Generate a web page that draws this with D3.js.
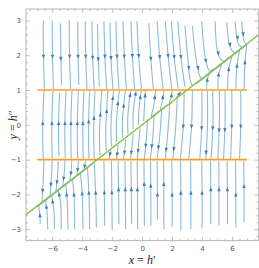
<!DOCTYPE html>
<html>
<head>
<meta charset="utf-8">
<script src="https://cdn.jsdelivr.net/npm/d3@7"></script>
<style>
  body { margin: 0; background: #fff; }
  svg { display: block; }
</style>
</head>
<body>
<svg id="chart" width="259" height="268"></svg>
<script>
// phase plane, x = h', y = h''
let xTicks = [-6, -4, -2, 0, 2, 4, 6];
let yTicks = [-3, -2, -1, 0, 1, 2, 3];
let orangeLevels = [1, -1];
let orangeSpan = [-7, 7];
let greenLine = [[-7.75, -2.583], [7.75, 2.583]];

// streamlines: [arrowY, [x,y], [x,y], ...] in flow order
let upperDown = [
  [1.96, [-6.6, 3.0], [-6.58, 1.9], [-6.52, 1.03]],
  [1.96, [-6.0, 3.0], [-5.98, 1.9], [-5.92, 1.03]],
  [1.9, [-5.45, 2.92], [-5.42, 1.9], [-5.38, 1.15]],
  [1.96, [-4.87, 3.0], [-4.84, 1.9], [-4.77, 1.03]],
  [1.96, [-4.3, 2.97], [-4.27, 1.9], [-4.22, 1.15]],
  [1.96, [-3.8, 2.97], [-3.76, 1.9], [-3.68, 1.03]],
  [1.93, [-3.35, 2.97], [-3.3, 1.9], [-3.2, 1.04]],
  [1.88, [-2.98, 2.9], [-2.93, 1.9], [-2.85, 1.1]],
  [1.96, [-2.55, 2.98], [-2.48, 1.9], [-2.36, 1.03]],
  [1.92, [-2.15, 2.94], [-2.08, 1.9], [-1.95, 1.03]],
  [1.96, [-1.75, 2.98], [-1.67, 1.9], [-1.55, 1.03]],
  [1.96, [-1.28, 2.98], [-1.18, 1.9], [-1.05, 1.03]],
  [1.98, [-0.75, 2.98], [-0.64, 1.9], [-0.5, 1.03]],
  [1.98, [-0.35, 2.98], [-0.22, 1.9], [-0.05, 1.03]],
  [1.9, [0.45, 2.92], [0.58, 1.9], [0.75, 1.03]],
  [1.95, [1.0, 2.98], [1.18, 1.9], [1.4, 1.03]],
  [1.98, [1.55, 2.98], [1.75, 1.9], [1.98, 1.03]],
  [1.95, [1.95, 2.98], [2.15, 1.9], [2.4, 1.05]],
  [1.95, [2.38, 2.98], [2.6, 1.9], [2.85, 1.1]],
  [1.63, [2.85, 2.85], [3.05, 1.9], [3.2, 1.3], [3.35, 1.12]],
  [1.63, [3.35, 2.85], [3.6, 1.9], [3.85, 1.4], [4.0, 1.33]],
  [1.84, [3.97, 2.98], [4.25, 1.84], [4.5, 1.55], [4.8, 1.6]],
  [2.05, [4.87, 2.98], [5.1, 2.0], [5.45, 1.82], [5.7, 1.9]],
  [2.3, [5.65, 2.94], [5.9, 2.2], [6.2, 2.07], [6.4, 2.13]],
  [2.5, [6.2, 2.98], [6.45, 2.3], [6.7, 2.23]],
  [2.6, [6.65, 2.98], [6.8, 2.4], [6.95, 2.32]]
];

let rightUp = [
  [1.3, [4.3, 1.03], [4.35, 1.3], [4.5, 1.5]],
  [1.45, [5.05, 1.03], [5.1, 1.45], [5.3, 1.74]],
  [1.6, [5.7, 1.03], [5.78, 1.6], [6.0, 1.98]],
  [1.7, [6.25, 1.03], [6.33, 1.7], [6.5, 2.15]],
  [1.8, [6.8, 1.03], [6.86, 1.8], [6.98, 2.3]],
  [null, [3.6, 1.17], [5.0, 1.64], [7.0, 2.31]]
];

let midUp = [
  [0.05, [-6.6, -0.97], [-6.64, -0.2], [-6.6, 0.5], [-6.55, 0.97]],
  [0.05, [-6.0, -0.97], [-6.03, -0.2], [-6.0, 0.5], [-5.95, 0.97]],
  [0.05, [-5.55, -0.9], [-5.58, -0.2], [-5.55, 0.5], [-5.5, 0.92]],
  [0.05, [-5.13, -0.97], [-5.16, -0.2], [-5.13, 0.5], [-5.08, 0.97]],
  [0.05, [-4.73, -0.97], [-4.76, -0.2], [-4.73, 0.5], [-4.68, 0.97]],
  [0.05, [-4.3, -0.97], [-4.33, -0.2], [-4.3, 0.5], [-4.25, 0.97]],
  [0.05, [-3.93, -0.97], [-3.96, -0.2], [-3.93, 0.5], [-3.88, 0.97]],
  [0.1, [-3.55, -0.97], [-3.58, -0.2], [-3.55, 0.5], [-3.5, 0.97]],
  [0.2, [-3.2, -0.97], [-3.23, -0.2], [-3.2, 0.5], [-3.15, 0.97]],
  [0.3, [-2.82, -0.88], [-2.85, -0.3], [-2.78, 0.4], [-2.7, 0.98]],
  [0.4, [-2.4, -0.75], [-2.43, -0.2], [-2.36, 0.5], [-2.28, 0.98]],
  [0.77, [-2.05, -0.62], [-2.08, -0.1], [-2.0, 0.6], [-1.9, 0.98]],
  [0.62, [-1.7, -0.5], [-1.72, 0.0], [-1.62, 0.6], [-1.52, 0.98]],
  [0.55, [-1.3, -0.37], [-1.32, 0.1], [-1.22, 0.6], [-1.12, 0.98]],
  [0.86, [-0.95, -0.25], [-0.96, 0.2], [-0.86, 0.7], [-0.75, 0.98]],
  [0.9, [-0.6, -0.13], [-0.6, 0.3], [-0.5, 0.75], [-0.4, 0.98]],
  [0.8, [-0.25, 0.0], [-0.22, 0.4], [-0.12, 0.8], [-0.05, 0.98]],
  [0.85, [0.1, 0.1], [0.15, 0.5], [0.22, 0.98]],
  [0.8, [0.6, 0.25], [0.75, 0.5], [0.9, 0.98]],
  [0.8, [1.2, 0.45], [1.35, 0.7], [1.45, 0.98]],
  [0.85, [1.8, 0.65], [1.95, 0.8], [2.0, 0.98]],
  [0.9, [2.3, 0.8], [2.5, 0.9], [2.55, 0.98]],
  [null, [0.6, 0.22], [1.3, 0.45], [2.0, 0.64]]
];

let midDown = [
  [-0.85, [-2.1, -0.75], [-2.15, -0.85], [-2.2, -0.98]],
  [-0.85, [-1.6, -0.58], [-1.65, -0.8], [-1.72, -0.98]],
  [-0.8, [-1.1, -0.42], [-1.15, -0.7], [-1.25, -0.98]],
  [-0.8, [-0.6, -0.25], [-0.67, -0.6], [-0.78, -0.98]],
  [-0.75, [-0.15, -0.1], [-0.22, -0.5], [-0.32, -0.98]],
  [-0.6, [0.35, 0.15], [0.3, -0.3], [0.15, -0.98]],
  [-0.62, [0.8, 0.3], [0.72, -0.3], [0.55, -0.98]],
  [-0.65, [1.3, 0.46], [1.2, -0.2], [1.0, -0.98]],
  [-0.72, [1.85, 0.65], [1.75, 0.0], [1.55, -0.98]],
  [-0.7, [2.35, 0.82], [2.25, 0.0], [2.05, -0.98]],
  [-0.05, [2.8, 0.97], [2.75, 0.0], [2.55, -0.98]],
  [-0.05, [3.35, 0.98], [3.3, 0.0], [3.1, -0.98]],
  [-0.1, [3.98, 0.98], [3.98, 0.0], [3.85, -0.98]],
  [-0.8, [4.36, 0.98], [4.36, 0.0], [4.25, -0.98]],
  [-0.1, [4.71, 0.98], [4.72, 0.0], [4.6, -0.98]],
  [-0.16, [5.15, 0.98], [5.15, 0.0], [5.05, -0.98]],
  [-0.15, [5.53, 0.98], [5.53, 0.0], [5.43, -0.98]],
  [-0.05, [5.98, 0.98], [5.98, 0.0], [5.9, -0.98]],
  [-0.05, [6.58, 0.98], [6.58, 0.0], [6.5, -0.98]]
];

let leftDown = [
  [-1.9, [-6.55, -1.02], [-6.6, -1.6], [-6.68, -2.2]],
  [-1.72, [-6.0, -1.02], [-6.05, -1.5], [-6.15, -2.03]],
  [-1.65, [-5.6, -1.05], [-5.65, -1.5], [-5.75, -1.9]],
  [-1.55, [-5.15, -1.02], [-5.2, -1.4], [-5.3, -1.75]],
  [-1.4, [-4.7, -1.02], [-4.73, -1.3], [-4.82, -1.6]],
  [-1.3, [-4.25, -1.02], [-4.28, -1.2], [-4.35, -1.45]],
  [-1.2, [-3.8, -1.02], [-3.82, -1.15], [-3.88, -1.29]],
  [null, [-3.3, -1.12], [-5.0, -1.69], [-7.0, -2.36]]
];

let lowerUp = [
  [-2.6, [-6.8, -2.85], [-6.82, -2.6], [-6.9, -2.33]],
  [-2.35, [-6.3, -3.0], [-6.35, -2.5], [-6.45, -2.15]],
  [-2.2, [-5.85, -3.0], [-5.9, -2.4], [-6.05, -2.02]],
  [-2.0, [-5.4, -3.0], [-5.45, -2.2], [-5.6, -1.87]],
  [-2.0, [-4.95, -3.0], [-5.0, -2.2], [-5.1, -1.7]],
  [-2.0, [-4.5, -3.0], [-4.55, -2.0], [-4.65, -1.55]],
  [-1.97, [-3.95, -3.0], [-4.0, -2.0], [-4.12, -1.37]],
  [-1.95, [-3.5, -3.0], [-3.55, -2.0], [-3.65, -1.22]],
  [-1.95, [-3.05, -2.95], [-3.1, -2.0], [-3.2, -1.07]],
  [-1.94, [-2.5, -2.9], [-2.52, -2.0], [-2.55, -1.03]],
  [-1.94, [-2.0, -3.04], [-2.02, -2.0], [-2.05, -1.03]],
  [-1.85, [-1.55, -2.86], [-1.57, -2.0], [-1.6, -1.03]],
  [-1.85, [-1.1, -3.0], [-1.12, -2.0], [-1.15, -1.03]],
  [-1.85, [-0.7, -2.86], [-0.72, -2.0], [-0.75, -1.03]],
  [-1.85, [-0.3, -3.0], [-0.31, -2.0], [-0.33, -1.03]],
  [-1.7, [0.15, -2.9], [0.14, -2.0], [0.12, -1.03]],
  [-1.75, [0.58, -2.9], [0.58, -2.0], [0.56, -1.03]],
  [-2.0, [1.02, -2.72], [1.02, -2.0], [1.0, -1.03]],
  [-1.7, [1.45, -3.0], [1.45, -2.0], [1.43, -1.03]],
  [-2.0, [2.0, -2.93], [2.0, -2.0], [1.98, -1.03]],
  [-1.95, [2.58, -3.04], [2.58, -2.0], [2.56, -1.03]],
  [-1.95, [3.25, -3.0], [3.25, -2.0], [3.23, -1.03]],
  [-1.95, [4.0, -2.98], [4.0, -2.0], [3.98, -1.03]],
  [-1.85, [4.58, -2.86], [4.58, -2.0], [4.56, -1.03]],
  [-1.85, [5.13, -2.9], [5.13, -2.0], [5.11, -1.03]],
  [-1.85, [5.69, -2.86], [5.69, -2.0], [5.67, -1.03]],
  [-2.0, [6.25, -2.95], [6.25, -2.0], [6.23, -1.03]],
  [-1.76, [6.8, -2.8], [6.8, -2.0], [6.78, -1.03]]
];

let plotLeft = 26, plotRight = 258.3, plotTop = 9, plotBottom = 240.7;

let svg = d3.select("#chart");

let x = d3.scaleLinear().domain([-7.75, 7.75]).range([plotLeft, plotRight]);
let y = d3.scaleLinear().domain([-3.33, 3.33]).range([plotBottom, plotTop]);

svg.append("defs").append("clipPath").attr("id", "plotclip")
  .append("rect")
  .attr("x", plotLeft).attr("y", plotTop)
  .attr("width", plotRight - plotLeft).attr("height", plotBottom - plotTop);

let plot = svg.append("g").attr("clip-path", "url(#plotclip)");

let lineGen = d3.line()
  .x(function(d) { return x(d[0]); })
  .y(function(d) { return y(d[1]); })
  .curve(d3.curveCatmullRom.alpha(0.5));

let allStreams = upperDown.concat(rightUp, midUp, midDown, leftDown, lowerUp);

let streamGroup = plot.append("g");

streamGroup.selectAll("path.stream")
  .data(allStreams)
  .enter()
  .append("path")
    .attr("class", "stream")
    .attr("d", function(d) { return lineGen(d.slice(1)); })
    .attr("fill", "none")
    .attr("stroke", "#79aed3")
    .attr("stroke-opacity", 0.85)
    .attr("stroke-width", 1.1);

// arrow heads where each line crosses its arrowY
function arrowAt(d) {
  if (d[0] === null) return null;
  let pts = d.slice(1).map(function(p) { return [x(p[0]), y(p[1])]; });
  let ay = y(d[0]);
  for (let i = 0; i < pts.length - 1; i++) {
    let a = pts[i], b = pts[i + 1];
    if ((a[1] - ay) * (b[1] - ay) <= 0 && a[1] !== b[1]) {
      let t = (ay - a[1]) / (b[1] - a[1]);
      let px = a[0] + t * (b[0] - a[0]);
      let ang = Math.atan2(b[1] - a[1], b[0] - a[0]) * 180 / Math.PI;
      return { px: px, py: ay, ang: ang };
    }
  }
  return null;
}

let arrows = allStreams.map(arrowAt).filter(function(a) { return a !== null; });

streamGroup.selectAll("path.arrow")
  .data(arrows)
  .enter()
  .append("path")
    .attr("class", "arrow")
    .attr("d", "M2.2,0 L-2,-1.7 L-2,1.7 Z")
    .attr("transform", function(d) {
      return "translate(" + d.px + "," + d.py + ") rotate(" + d.ang + ")";
    })
    .attr("fill", "#3f7fb0");

// orange lines
plot.selectAll("line.orange")
  .data(orangeLevels)
  .enter()
  .append("line")
    .attr("x1", x(orangeSpan[0]))
    .attr("x2", x(orangeSpan[1]))
    .attr("y1", function(d) { return y(d); })
    .attr("y2", function(d) { return y(d); })
    .attr("stroke", "#ff9c22")
    .attr("stroke-width", 1.6);

// green line
plot.append("path")
  .datum(greenLine)
  .attr("d", d3.line().x(function(d) { return x(d[0]); }).y(function(d) { return y(d[1]); }))
  .attr("stroke", "#86c03c")
  .attr("stroke-width", 1.4)
  .attr("fill", "none");

// frame and ticks
let frameColor = "#a6a6a6";
let labelColor = "#555";

svg.append("rect")
  .attr("x", plotLeft).attr("y", plotTop)
  .attr("width", plotRight - plotLeft).attr("height", plotBottom - plotTop)
  .attr("fill", "none")
  .attr("stroke", frameColor)
  .attr("stroke-width", 0.8);

let xMinor = d3.range(-7.5, 7.51, 0.5).filter(function(v) { return v % 2 !== 0; });
let yMinor = d3.range(-3.2, 3.21, 0.2).map(function(v) { return Math.round(v * 10) / 10; })
  .filter(function(v) { return Math.abs(v - Math.round(v)) > 0.01; });

let fmt = function(d) { return d < 0 ? "\u2212" + Math.abs(d) : d; };

let xAxisB = d3.axisBottom(x).tickValues(xTicks).tickSizeInner(-4).tickSizeOuter(0).tickPadding(5).tickFormat(fmt);
let xAxisT = d3.axisTop(x).tickValues(xTicks).tickSizeInner(-4).tickSizeOuter(0).tickFormat("");
let yAxisL = d3.axisLeft(y).tickValues(yTicks).tickSizeInner(-4).tickSizeOuter(0).tickPadding(5).tickFormat(fmt);
let yAxisR = d3.axisRight(y).tickValues(yTicks).tickSizeInner(-4).tickSizeOuter(0).tickFormat("");

let axes = [
  svg.append("g").attr("transform", "translate(0," + plotBottom + ")").call(xAxisB),
  svg.append("g").attr("transform", "translate(0," + plotTop + ")").call(xAxisT),
  svg.append("g").attr("transform", "translate(" + plotLeft + ",0)").call(yAxisL),
  svg.append("g").attr("transform", "translate(" + plotRight + ",0)").call(yAxisR),
  svg.append("g").attr("transform", "translate(0," + plotBottom + ")")
    .call(d3.axisBottom(x).tickValues(xMinor).tickSizeInner(-2).tickSizeOuter(0).tickFormat("")),
  svg.append("g").attr("transform", "translate(0," + plotTop + ")")
    .call(d3.axisTop(x).tickValues(xMinor).tickSizeInner(-2).tickSizeOuter(0).tickFormat("")),
  svg.append("g").attr("transform", "translate(" + plotLeft + ",0)")
    .call(d3.axisLeft(y).tickValues(yMinor).tickSizeInner(-2).tickSizeOuter(0).tickFormat("")),
  svg.append("g").attr("transform", "translate(" + plotRight + ",0)")
    .call(d3.axisRight(y).tickValues(yMinor).tickSizeInner(-2).tickSizeOuter(0).tickFormat(""))
];

axes.forEach(function(g) {
  g.select(".domain").remove();
  g.selectAll(".tick line").attr("stroke", frameColor).attr("stroke-width", 0.7);
  g.selectAll(".tick text")
    .attr("fill", labelColor)
    .style("font-family", "'DejaVu Sans', sans-serif")
    .style("font-size", "7px");
});

// axis titles
let xTitle = svg.append("text")
  .attr("x", (plotLeft + plotRight) / 2)
  .attr("y", 264)
  .attr("text-anchor", "middle")
  .style("font-family", "'Liberation Serif', 'DejaVu Serif', serif")
  .style("font-size", "12px")
  .attr("fill", "#222");
xTitle.append("tspan").style("font-style", "italic").text("x");
xTitle.append("tspan").text(" = ");
xTitle.append("tspan").style("font-style", "italic").text("h");
xTitle.append("tspan").text("\u2032");

let yTitle = svg.append("text")
  .attr("transform", "translate(17," + (plotTop + plotBottom) / 2 + ") rotate(-90)")
  .attr("text-anchor", "middle")
  .style("font-family", "'Liberation Serif', 'DejaVu Serif', serif")
  .style("font-size", "12px")
  .attr("fill", "#222");
yTitle.append("tspan").style("font-style", "italic").text("y");
yTitle.append("tspan").text(" = ");
yTitle.append("tspan").style("font-style", "italic").text("h");
yTitle.append("tspan").text("\u2033");
</script>
</body>
</html>
